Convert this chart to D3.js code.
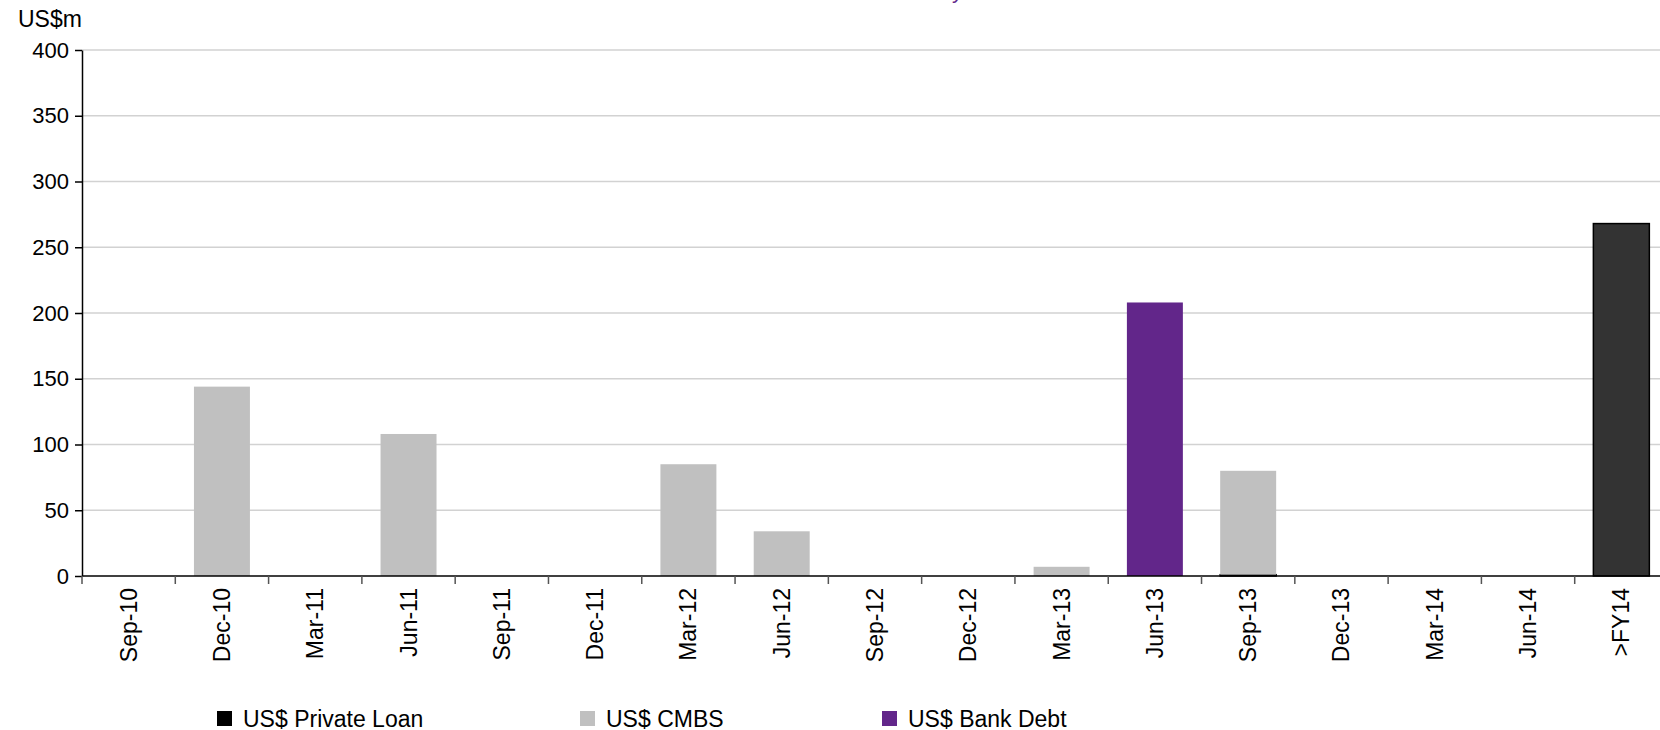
<!DOCTYPE html>
<html>
<head>
<meta charset="utf-8">
<script src="https://cdn.jsdelivr.net/npm/d3@7/dist/d3.min.js"></script>
<style>
  html, body { margin: 0; padding: 0; background: #fff; overflow: hidden; }
  svg { display: block; font-family: "Liberation Sans", Arial, sans-serif; }
</style>
</head>
<body>
<svg id="chart" width="1660" height="730"></svg>
<script>
// Quarterly debt maturities, US$ millions
const categories = ["Sep-10","Dec-10","Mar-11","Jun-11","Sep-11","Dec-11","Mar-12","Jun-12",
                    "Sep-12","Dec-12","Mar-13","Jun-13","Sep-13","Dec-13","Mar-14","Jun-14",">FY14"];
const privateLoan = [0,0,0,0,0,0,0,0,0,0,0,0,1,0,0,0,268];
const cmbs        = [0,144,0,108,0,0,85,34,0,0,7,0,79,0,0,0,0];
const bankDebt    = [0,0,0,0,0,0,0,0,0,0,0,208,0,0,0,0,0];
const yTicks = [0,50,100,150,200,250,300,350,400];

const seriesNames = ["US$ Private Loan","US$ CMBS","US$ Bank Debt"];
const seriesKeys = ["privateLoan","cmbs","bankDebt"];
const fills   = { privateLoan: "#333333", cmbs: "#c0c0c0", bankDebt: "#62268a" };
const swatch  = { privateLoan: "#000000", cmbs: "#c0c0c0", bankDebt: "#62268a" };

const rows = categories.map((c, i) => ({
  cat: c, privateLoan: privateLoan[i], cmbs: cmbs[i], bankDebt: bankDebt[i]
}));

const svg = d3.select("#chart");
const plotLeft = 82, plotRight = 1668, plotTop = 50, plotBottom = 576;

const x = d3.scaleBand().domain(categories).range([plotLeft, plotRight])
  .paddingInner(0.4).paddingOuter(0.2);
const y = d3.scaleLinear().domain([0, 400]).range([plotBottom, plotTop]);

// partially visible title above the plot
svg.append("text")
  .attr("x", 963).attr("y", -2.5)
  .attr("text-anchor", "end")
  .attr("font-size", 22)
  .attr("fill", "#62268a")
  .text("Debt Maturity");

// horizontal gridlines
svg.append("g").selectAll("line")
  .data(yTicks.filter(d => d > 0))
  .join("line")
  .attr("x1", plotLeft).attr("x2", 1660)
  .attr("y1", d => y(d)).attr("y2", d => y(d))
  .attr("stroke", "#d2d2d2").attr("stroke-width", 1.5);

// stacked bars
const stack = d3.stack().keys(seriesKeys)(rows);
stack.forEach(layer => {
  const key = layer.key;
  svg.append("g").selectAll("rect")
    .data(layer.filter(d => d[1] - d[0] > 0))
    .join("rect")
    .attr("x", d => x(d.data.cat))
    .attr("width", x.bandwidth())
    .attr("y", d => y(d[1]))
    .attr("height", d => y(d[0]) - y(d[1]))
    .attr("fill", fills[key])
    .attr("stroke", key === "privateLoan" ? "#000" : "none")
    .attr("stroke-width", key === "privateLoan" ? 1.5 : 0);
});

// y axis
const yAxis = d3.axisLeft(y).tickValues(yTicks).tickSize(7).tickPadding(6).tickSizeOuter(0);
const gy = svg.append("g").attr("transform", `translate(${plotLeft},0)`).call(yAxis);
gy.select(".domain").attr("stroke", "#000").attr("stroke-width", 1.5);
gy.selectAll(".tick line").attr("stroke", "#000").attr("stroke-width", 1.5);
gy.selectAll(".tick text").attr("font-size", 22).attr("fill", "#000")
  .attr("font-family", "Liberation Sans, Arial, sans-serif");

// x axis baseline
svg.append("line")
  .attr("x1", plotLeft).attr("x2", 1660)
  .attr("y1", plotBottom).attr("y2", plotBottom)
  .attr("stroke", "#000").attr("stroke-width", 1.5);

// x tick marks at category boundaries
const step = x.step();
const boundaries = d3.range(categories.length + 1).map(i => plotLeft + i * step);
svg.append("g").selectAll("line")
  .data(boundaries)
  .join("line")
  .attr("x1", d => d).attr("x2", d => d)
  .attr("y1", plotBottom).attr("y2", plotBottom + 8)
  .attr("stroke", "#555").attr("stroke-width", 1.5);

// rotated category labels
svg.append("g").selectAll("text")
  .data(categories)
  .join("text")
  .attr("transform", d => `translate(${x(d) + x.bandwidth() / 2 + 8},${plotBottom + 12}) rotate(-90)`)
  .attr("text-anchor", "end")
  .attr("font-size", 23)
  .attr("fill", "#000")
  .text(d => d);

// y axis unit label
svg.append("text")
  .attr("x", 18).attr("y", 27)
  .attr("font-size", 23)
  .attr("fill", "#000")
  .text("US$m");

// legend
const legendX = [217, 580, 882];
const lg = svg.append("g");
seriesKeys.forEach((k, i) => {
  lg.append("rect")
    .attr("x", legendX[i]).attr("y", 711)
    .attr("width", 15).attr("height", 15)
    .attr("fill", swatch[k]);
  lg.append("text")
    .attr("x", legendX[i] + 26).attr("y", 727)
    .attr("font-size", 23)
    .attr("fill", "#000")
    .text(seriesNames[i]);
});
</script>
</body>
</html>
